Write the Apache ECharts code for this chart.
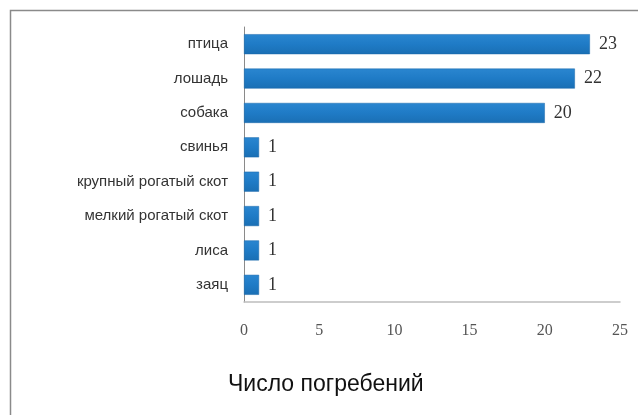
<!DOCTYPE html>
<html>
<head>
<meta charset="utf-8">
<script src="https://cdn.jsdelivr.net/npm/echarts@6/dist/echarts.min.js"></script>
<style>html,body{margin:0;padding:0;background:#fff;}#c{width:638px;height:415px;}</style>
</head>
<body>
<div id="c"></div>
<script>
const categories = ['заяц','лиса','мелкий рогатый скот','крупный рогатый скот','свинья','собака','лошадь','птица'];
const values = [1,1,1,1,1,20,22,23];
const xTicks = [0,5,10,15,20,25];
const axisTitle = 'Число погребений';

const chart = echarts.init(document.getElementById('c'));
chart.setOption({
  animation: false,
  backgroundColor: '#fff',
  graphic: [{
    type: 'rect', silent: true,
    shape: {x: 10.5, y: 10.5, width: 700, height: 500},
    style: {fill: 'none', stroke: '#8a8a8a', lineWidth: 1.5}
  }, {
    type: 'text', left: 228, top: 373,
    style: {text: axisTitle, font: '23px "Liberation Sans", Arial, sans-serif', fill: '#111'}
  }],
  grid: {left: 244, right: 18, top: 27, bottom: 113, containLabel: false},
  xAxis: {
    type: 'value', min: xTicks[0], max: xTicks[xTicks.length-1], interval: 5,
    axisLine: {show: true, lineStyle: {color: '#bdbdbd', width: 1.5}},
    axisTick: {show: false},
    splitLine: {show: false},
    axisLabel: {margin: 21, color: '#555', fontSize: 16, fontFamily: '"Liberation Serif", serif'}
  },
  yAxis: {
    type: 'category', data: categories,
    axisLine: {show: true, lineStyle: {color: '#8a8a8a', width: 1}},
    axisTick: {show: false},
    axisLabel: {margin: 16, color: '#333', fontSize: 15, fontFamily: '"Liberation Sans", Arial, sans-serif'}
  },
  series: [{
    type: 'bar', data: values, barWidth: 20,
    itemStyle: {
      color: new echarts.graphic.LinearGradient(0,0,0,1,[
        {offset:0,color:'#2a86d0'},{offset:0.5,color:'#1f7bc6'},{offset:1,color:'#1a6fb4'}
      ]),
      borderColor: '#1a68aa', borderWidth: 0.5
    },
    label: {show: true, position: 'right', distance: 9, color: '#333', fontSize: 18,
      fontFamily: '"Liberation Serif", serif'}
  }]
});
</script>
</body>
</html>
